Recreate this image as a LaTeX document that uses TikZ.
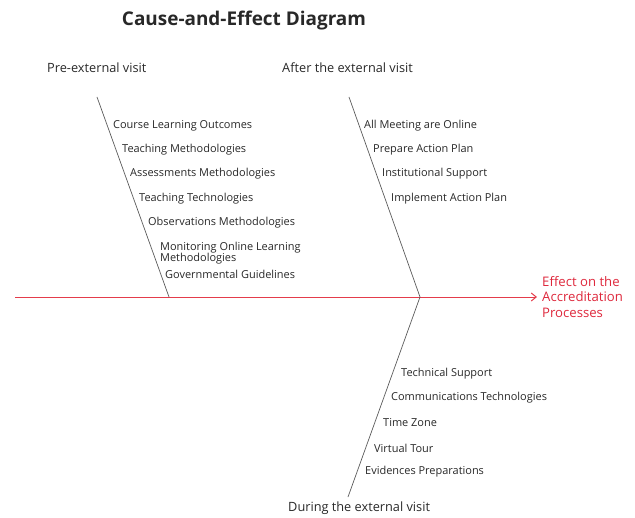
\documentclass[tikz,border=0pt]{standalone}
\usepackage{fontspec}
\setmainfont{Open Sans}
\usetikzlibrary{arrows.meta}
\definecolor{effred}{RGB}{222,40,60}
\definecolor{linered}{RGB}{228,60,75}
\definecolor{bonegray}{RGB}{90,90,90}
\definecolor{txtgray}{RGB}{40,40,40}
\tikzset{
  item/.style={anchor=west, inner sep=0pt, font=\fontsize{11}{12}\selectfont, text=txtgray},
  heading/.style={inner sep=0pt, font=\fontsize{12.8}{15}\selectfont, text=txtgray},
  bone/.style={draw=bonegray, line width=0.7pt},
  spine/.style={draw=linered, line width=1pt, -{Straight Barb[length=5pt,width=8pt]}},
}
\begin{document}
\begin{tikzpicture}[x=1bp,y=-1bp]
\useasboundingbox (0,0) rectangle (635,518);
% title
\node[inner sep=0pt, font=\fontsize{19}{22}\selectfont\bfseries, text=txtgray] (title) at (244,21) {Cause-and-Effect Diagram};
% headings
\node[heading, anchor=west] (hpre) at (47,68) {Pre-external visit};
\node[heading, anchor=west] (hafter) at (282,68) {After the external visit};
\node[heading, anchor=west] (hduring) at (288,508) {During the external visit};
% spine
\coordinate (sstart) at (15,297);
\coordinate (stip) at (537,297);
\coordinate (j1) at (169,297);
\coordinate (j2) at (420,297);
\draw[spine] (sstart) -- (stip);
% bones
\coordinate (b1top) at (97,97);
\coordinate (b2top) at (349,97);
\coordinate (b3bot) at (348,497);
\draw[bone] (b1top) -- (j1);
\draw[bone] (b2top) -- (j2);
\draw[bone] (j2) -- (b3bot);
% effect
\node[anchor=west, inner sep=0pt, align=left, text=effred, font=\fontsize{13.2}{16}\selectfont] (effect) at (542,297) {Effect on the\\Accreditation\\Processes};
% upper-left items
\node[item] (a1) at (113,126) {Course Learning Outcomes};
\node[item] (a2) at (122,150) {Teaching Methodologies};
\node[item] (a3) at (130,174) {Assessments Methodologies};
\node[item] (a4) at (139,199) {Teaching Technologies};
\node[item] (a5) at (148,223) {Observations Methodologies};
\node[item, align=left, font=\fontsize{11}{11}\selectfont] (a6) at (160,253) {Monitoring Online Learning\\Methodologies};
\node[item] (a7) at (165,274) {Governmental Guidelines};
% upper-right items
\node[item] (c1) at (364,126) {All Meeting are Online};
\node[item] (c2) at (373,150) {Prepare Action Plan};
\node[item] (c3) at (382,174) {Institutional Support};
\node[item] (c4) at (391,199) {Implement Action Plan};
% lower items
\node[item] (d1) at (401,374) {Technical Support};
\node[item] (d2) at (391,398) {Communications Technologies};
\node[item] (d3) at (383,423) {Time Zone};
\node[item] (d4) at (374,448) {Virtual Tour};
\node[item] (d5) at (365,472) {Evidences Preparations};
\end{tikzpicture}
\end{document}
